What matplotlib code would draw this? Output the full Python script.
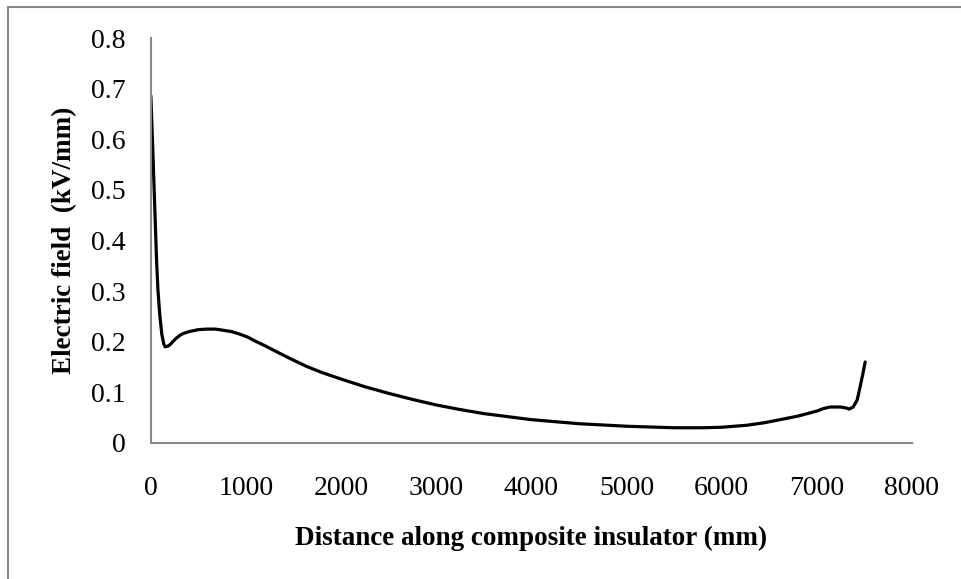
import matplotlib.pyplot as plt
from matplotlib.patches import Rectangle

# distance along the insulator (mm) and electric field (kV/mm)
distancia = [0, 20, 40, 60, 75, 95, 115, 135, 150, 175, 200, 230, 260, 300, 336,
             400, 450, 500, 589, 680, 750, 850, 936, 1020, 1100, 1190, 1283,
             1450, 1640, 1800, 1987, 2250, 2500, 2750, 3000, 3250, 3500, 3750,
             4000, 4500, 5000, 5500, 5800, 6000, 6267, 6450, 6614, 6800, 6900,
             7000, 7070, 7140, 7250, 7310, 7340, 7382, 7424, 7456, 7485, 7508]
campo = [0.686, 0.58, 0.47, 0.36, 0.30, 0.25, 0.215, 0.196, 0.190, 0.191,
         0.194, 0.200, 0.206, 0.212, 0.216, 0.220, 0.222, 0.224, 0.225, 0.225,
         0.223, 0.220, 0.215, 0.209, 0.201, 0.193, 0.184, 0.168, 0.151, 0.139,
         0.127, 0.111, 0.098, 0.086, 0.075, 0.066, 0.058, 0.052, 0.046, 0.038,
         0.033, 0.030, 0.030, 0.031, 0.035, 0.040, 0.046, 0.053, 0.058, 0.063,
         0.068, 0.071, 0.071, 0.069, 0.067, 0.071, 0.085, 0.112, 0.138, 0.160]

xticks = [0, 1000, 2000, 3000, 4000, 5000, 6000, 7000, 8000]
yticks = [0, 0.1, 0.2, 0.3, 0.4, 0.5, 0.6, 0.7, 0.8]
ytick_labels = ["0", "0.1", "0.2", "0.3", "0.4", "0.5", "0.6", "0.7", "0.8"]

plt.rcParams['font.family'] = ['Liberation Serif', 'DejaVu Serif']

fig = plt.figure(figsize=(9.61, 5.79), dpi=100)
ax = fig.add_axes([0.157, 0.235, 0.792, 0.699])

ax.plot(distancia, campo, color='black', linewidth=2.3, solid_capstyle='round',
        solid_joinstyle='round')

ax.set_xlim(0, 8000)
ax.set_ylim(0, 0.8)
ax.set_xticks(xticks)
ax.set_yticks(yticks)
ax.set_yticklabels(ytick_labels)
ax.tick_params(length=0, labelsize=20, colors='black')
ax.tick_params(axis='x', pad=24)
ax.tick_params(axis='y', pad=18)

for lado in ['top', 'right']:
    ax.spines[lado].set_visible(False)
for lado in ['left', 'bottom']:
    ax.spines[lado].set_color('#868686')
    ax.spines[lado].set_linewidth(1.5)

ax.set_xlabel("Distance along composite insulator (mm)", fontsize=19.5,
              fontweight='bold', labelpad=18)
ax.set_ylabel("Electric field  (kV/mm)", fontsize=19.5, fontweight='bold',
              labelpad=10)

# moldura cinza do gráfico (só topo e esquerda aparecem)
fig.patches.append(Rectangle((8 / 961, -0.1), 1.2, 1.1 - 7 / 579,
                             transform=fig.transFigure, fill=False,
                             edgecolor='#868686', linewidth=1.5))

fig.savefig("out.png", dpi=100)
